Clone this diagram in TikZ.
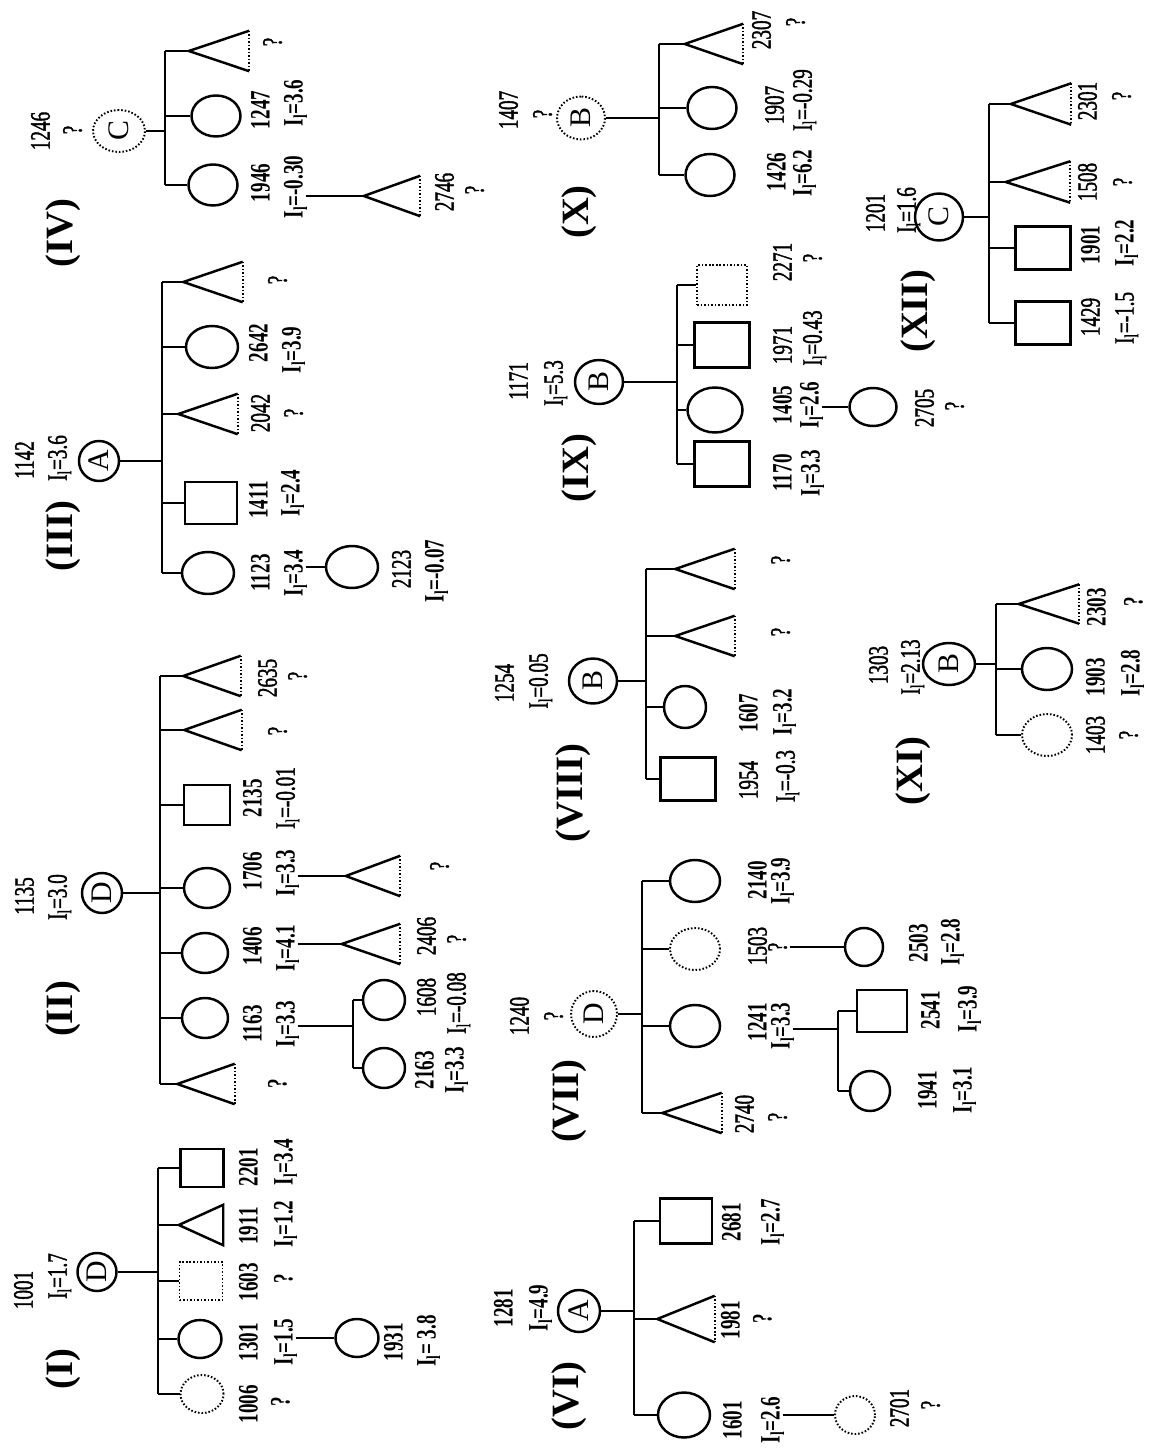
\documentclass[tikz,border=0pt]{standalone}
\usepackage{fontspec}
\setmainfont{Liberation Serif}
\newfontfamily\nrfont[FakeStretch=0.68]{Liberation Serif}
\newfontfamily\nrmedfont[FakeStretch=0.68, FakeBold=1.3]{Liberation Serif}
\usetikzlibrary{shapes.geometric}

\newcommand{\Il}[1]{I\textsubscript{l}=#1}
% triangle with solid sides and a dotted base
\newcommand{\pedTri}[2]{%
    \node[tribox] (#1) at (#2) {};
    \draw (#1.north east) -- (#1.west) -- (#1.south east);
    \draw[dotline] (#1.north east) -- (#1.south east);
}

\tikzset{
    pw/.store in=\pedw, ph/.store in=\pedh, tw/.store in=\triw, th/.store in=\trih,
    pw=48, ph=42, tw=57, th=38,
    dotline/.style={line width=1.1pt, dash pattern=on 0.9pt off 1.1pt},
    fem/.style={ellipse, draw, inner sep=0pt, minimum width=\pedw*0.02cm, minimum height=\pedh*0.02cm},
    femq/.style={fem, dotline},
    mal/.style={rectangle, draw, inner sep=0pt, minimum width=\pedw*0.02cm, minimum height=\pedh*0.02cm},
    malq/.style={mal, dotline},
    tribox/.style={rectangle, inner sep=0pt, minimum width=\triw*0.02cm, minimum height=\trih*0.02cm},
    par/.style={ellipse, draw, rotate=90, inner sep=0pt, font=\fontsize{17}{19}\selectfont},
    parq/.style={par, dotline},
    rsz/.style 2 args={minimum width=#2*0.02cm, minimum height=#1*0.02cm},
    lb/.style={rotate=90, inner sep=1pt, text height=11pt, text depth=0pt,
        font=\nrfont\bfseries\fontsize{16}{18}\selectfont},
    lr/.style={lb, font=\nrmedfont\fontsize{16}{18}\selectfont},
    fam/.style={rotate=90, inner sep=0pt, font=\bfseries\fontsize{22}{24}\selectfont},
}

\begin{document}
\begin{tikzpicture}[x=0.02cm, y=-0.02cm, line width=1.4pt]
    \useasboundingbox (0,0) rectangle (1151,1452);

    % (I)
    \node[fam] (fI) at (63,1369) {(I)};
    \node[lr] (nP1001) at (23,1290) {1001};
    \node[lr] (iP1001) at (57,1276) {\Il{1.7}};
    \node[par, rsz={39}{38}] (pI) at (97,1272) {D};
    \begin{scope}[pw=43, ph=38, tw=42]
        \node[femq] (c1006) at (202,1394) {};
        \node[fem] (c1301) at (200,1339) {};
        \node[malq] (c1603) at (201,1281) {};
        \node[tribox] (c1911) at (201,1225) {};
        \draw (c1911.west) -- (c1911.north east) -- (c1911.south east) -- cycle;
        \node[mal] (c2201) at (202,1168) {};
        \node[fem] (c1931) at (357,1338) {};
    \end{scope}
    \node[lb] (n1006) at (248,1404) {1006};
    \node[lb] (i1006) at (280,1402) {?};
    \node[lb] (n1301) at (248,1342) {1301};
    \node[lb] (i1301) at (283,1342) {\Il{1.5}};
    \node[lb] (n1603) at (248,1282) {1603};
    \node[lb] (i1603) at (283,1279) {?};
    \node[lb] (n1911) at (248,1226) {1911};
    \node[lb] (i1911) at (283,1224) {\Il{1.2}};
    \node[lb] (n2201) at (248,1167) {2201};
    \node[lb] (i2201) at (283,1162) {\Il{3.4}};
    \node[lb] (n1931) at (393,1342) {1931};
    \node[lb] (i1931) at (426,1341) {I\textsubscript{l}= 3.8};
    \coordinate (bI) at (158,1272);
    \draw (pI.south) -- (bI);
    \draw (c2201.west -| bI) -- (c1006.west -| bI);
    \foreach \ch in {c1006,c1301,c1603,c1911,c2201}
        \draw (\ch.west -| bI) -- (\ch.west);
    \draw (i1301.south |- c1931.west) -- (c1931.west);

    % (II)
    \node[fam] (fII) at (63,1009) {(II)};
    \node[lr] (nP1135) at (24,896) {1135};
    \node[lr] (iP1135) at (57,897) {\Il{3.0}};
    \node[par, rsz={40}{40}] (pII) at (102,893) {D};
    \begin{scope}[pw=46, ph=40, tw=55]
        \pedTri{tIIa}{206,1084}
        \node[fem] (c1163) at (205,1018) {};
        \node[fem] (c1406) at (205,953) {};
        \node[fem] (c1706) at (207,888) {};
        \node[mal] (c2135) at (207,805) {};
        \pedTri{tIIb}{213,730}
        \pedTri{c2635}{212,676}
    \end{scope}
    \begin{scope}[pw=42, ph=40]
        \node[fem] (c1608) at (384,1000) {};
        \node[fem] (c2163) at (384,1068) {};
    \end{scope}
    \begin{scope}[tw=56]
        \pedTri{c2406}{371,944}
    \end{scope}
    \begin{scope}[tw=52]
        \pedTri{tIIc}{373,876}
    \end{scope}
    \node[lb] (qIIa) at (277,1084) {?};
    \node[lb] (n1163) at (252,1024) {1163};
    \node[lb] (i1163) at (285,1024) {\Il{3.3}};
    \node[lb] (n1406) at (252,946) {1406};
    \node[lb] (i1406) at (285,948) {\Il{4.1}};
    \node[lb] (n1706) at (252,871) {1706};
    \node[lb] (i1706) at (285,873) {\Il{3.3}};
    \node[lb] (n2135) at (252,798) {2135};
    \node[lr] (i2135) at (285,798) {\Il{-0.01}};
    \node[lr] (qIIb) at (277,731) {?};
    \node[lr] (n2635) at (267,678) {2635};
    \node[lr] (i2635) at (297,676) {?};
    \node[lb] (n2163) at (424,1070) {2163};
    \node[lb] (i2163) at (454,1070) {\Il{3.3}};
    \node[lr] (n1608) at (426,997) {1608};
    \node[lr] (i1608) at (456,1003) {\Il{-0.08}};
    \node[lr] (n2406) at (426,936) {2406};
    \node[lr] (i2406) at (456,939) {?};
    \node[lr] (qIIc) at (439,866) {?};
    \coordinate (bII) at (160,893);
    \draw (pII.south) -- (bII);
    \draw (c2635.west -| bII) -- (tIIa.west -| bII);
    \foreach \ch in {tIIa,c1163,c1406,c1706,c2135,tIIb,c2635}
        \draw (\ch.west -| bII) -- (\ch.west);
    \coordinate (bIIg) at (353,1026);
    \draw (i1163.south |- bIIg) -- (bIIg);
    \draw (c1608.west -| bIIg) -- (c2163.west -| bIIg);
    \foreach \ch in {c1608,c2163}
        \draw (\ch.west -| bIIg) -- (\ch.west);
    \draw (i1406.south |- c2406.west) -- (c2406.west);
    \draw (i1706.south |- tIIc.west) -- (tIIc.west);

    % (III)
    \node[fam] (fIII) at (63,536) {(III)};
    \node[lr] (nP1142) at (24,460) {1142};
    \node[lr] (iP1142) at (57,458) {\Il{3.6}};
    \node[par, rsz={40}{40}] (pIII) at (99,461) {A};
    \begin{scope}[pw=52, ph=42]
        \node[fem] (c1123) at (208,573) {};
        \node[mal] (c1411) at (211,503) {};
        \pedTri{c2042}{208,414}
        \node[fem] (c2642) at (212,347) {};
        \pedTri{tIIIa}{213,282}
        \node[fem] (c2123) at (352,567) {};
    \end{scope}
    \node[lb] (n1123) at (260,573) {1123};
    \node[lb] (i1123) at (293,573) {\Il{3.4}};
    \node[lb] (n1411) at (258,500) {1411};
    \node[lb] (i1411) at (290,493) {\Il{2.4}};
    \node[lr] (n2042) at (260,413) {2042};
    \node[lr] (i2042) at (293,413) {?};
    \node[lb] (n2642) at (258,343) {2642};
    \node[lb] (i2642) at (291,350) {\Il{3.9}};
    \node[lr] (qIIIa) at (277,280) {?};
    \node[lr] (n2123) at (401,569) {2123};
    \node[lb] (i2123) at (434,571) {\Il{-0.07}};
    \coordinate (bIII) at (162,461);
    \draw (pIII.south) -- (bIII);
    \draw (tIIIa.west -| bIII) -- (c1123.west -| bIII);
    \foreach \ch in {c1123,c1411,c2042,c2642,tIIIa}
        \draw (\ch.west -| bIII) -- (\ch.west);
    \draw (i1123.south |- c2123.west) -- (c2123.west);

    % (IV)
    \node[fam] (fIV) at (63,233) {(IV)};
    \node[lr] (nP1246) at (40,131) {1246};
    \node[lr] (iP1246) at (72,130) {?};
    \node[parq, rsz={52}{42}] (pIV) at (119,131) {C};
    \begin{scope}[pw=49, ph=41, tw=58]
        \node[fem] (c1946) at (213,185) {};
        \node[fem] (c1247) at (216,116) {};
        \pedTri{tIVa}{219,51}
    \end{scope}
    \begin{scope}[tw=54]
        \pedTri{c2746}{392,196}
    \end{scope}
    \node[lb] (n1946) at (260,183) {1946};
    \node[lb] (i1946) at (293,187) {\Il{-0.30}};
    \node[lb] (n1247) at (260,110) {1247};
    \node[lb] (i1247) at (293,103) {\Il{3.6}};
    \node[lr] (qIVa) at (272,42) {?};
    \node[lr] (n2746) at (444,192) {2746};
    \node[lr] (i2746) at (474,190) {?};
    \coordinate (bIV) at (165,131);
    \draw (pIV.south) -- (bIV);
    \draw (c1946.west -| bIV) -- (tIVa.west -| bIV);
    \foreach \ch in {c1946,c1247,tIVa}
        \draw (\ch.west -| bIV) -- (\ch.west);
    \draw (i1946.south |- c2746.west) -- (c2746.west);

    % (VI)
    \node[fam] (fVI) at (569,1396) {(VI)};
    \node[lb] (nP1281) at (503,1308) {1281};
    \node[lb] (iP1281) at (538,1308) {\Il{4.9}};
    \node[par, rsz={42}{42}] (pVI) at (579,1311) {A};
    \begin{scope}[pw=52, ph=45, th=44, tw=55]
        \node[fem] (c1601) at (684,1415) {};
        \pedTri{c1981}{686,1319}
        \node[mal] (c2681) at (686,1221) {};
    \end{scope}
    \begin{scope}[pw=40, ph=38]
        \node[femq] (c2701) at (855,1415) {};
    \end{scope}
    \node[lb] (n1601) at (732,1420) {1601};
    \node[lb] (i1601) at (770,1420) {\Il{2.6}};
    \node[lb] (n1981) at (730,1320) {1981};
    \node[lb] (i1981) at (762,1319) {?};
    \node[lb] (n2681) at (731,1222) {2681};
    \node[lb] (i2681) at (770,1222) {\Il{2.7}};
    \node[lr] (n2701) at (899,1408) {2701};
    \node[lr] (i2701) at (930,1405) {?};
    \coordinate (bVI) at (634,1311);
    \draw (pVI.south) -- (bVI);
    \draw (c2681.west -| bVI) -- (c1601.west -| bVI);
    \foreach \ch in {c1601,c1981,c2681}
        \draw (\ch.west -| bVI) -- (\ch.west);
    \draw (i1601.south |- c2701.west) -- (c2701.west);

    % (VII)
    \node[fam] (fVII) at (569,1101) {(VII)};
    \node[lr] (nP1240) at (519,1016) {1240};
    \node[lr] (iP1240) at (553,1016) {?};
    \node[parq, rsz={46}{46}] (pVII) at (594,1014) {D};
    \begin{scope}[pw=50, ph=42]
        \pedTri{c2740}{692,1113}
        \node[fem] (c1241) at (695,1026) {};
        \node[femq] (c1503) at (695,949) {};
        \node[fem] (c2140) at (695,881) {};
        \node[mal] (c2541) at (882,1011) {};
    \end{scope}
    \begin{scope}[pw=40, ph=40]
        \node[fem] (c1941) at (870,1091) {};
    \end{scope}
    \begin{scope}[pw=38, ph=38]
        \node[fem] (c2503) at (864,947) {};
    \end{scope}
    \node[lr] (n2740) at (744,1114) {2740};
    \node[lr] (i2740) at (777,1117) {?};
    \node[lb] (n1241) at (757,1022) {1241};
    \node[lb] (i1241) at (780,1026) {\Il{3.3}};
    \node[lr] (n1503) at (757,946) {1503};
    \node[lr] (i1503) at (777,947) {?};
    \node[lb] (n2140) at (757,880) {2140};
    \node[lb] (i2140) at (780,881) {\Il{3.9}};
    \node[lb] (n2541) at (930,1010) {2541};
    \node[lb] (i2541) at (967,1009) {\Il{3.9}};
    \node[lb] (n1941) at (927,1090) {1941};
    \node[lb] (i1941) at (962,1090) {\Il{3.1}};
    \node[lb] (n2503) at (918,943) {2503};
    \node[lb] (i2503) at (950,942) {\Il{2.8}};
    \coordinate (bVII) at (642,1014);
    \draw (pVII.south) -- (bVII);
    \draw (c2140.west -| bVII) -- (c2740.west -| bVII);
    \foreach \ch in {c2740,c1241,c1503,c2140}
        \draw (\ch.west -| bVII) -- (\ch.west);
    \coordinate (bVIIg) at (838,1029);
    \draw (i1241.south |- bVIIg) -- (bVIIg);
    \draw (c2541.west -| bVIIg) -- (c1941.west -| bVIIg);
    \foreach \ch in {c2541,c1941}
        \draw (\ch.west -| bVIIg) -- (\ch.west);
    \draw (i1503.south |- c2503.west) -- (c2503.west);

    % (VIII)
    \node[fam] (fVIII) at (573,793) {(VIII)};
    \node[lr] (nP1254) at (504,683) {1254};
    \node[lr] (iP1254) at (538,681) {\Il{0.05}};
    \node[par, rsz={48}{45}] (pVIII) at (593,681) {B};
    \begin{scope}[pw=55, ph=43]
        \node[mal] (c1954) at (688,779) {};
        \pedTri{tVIIIa}{705,636}
        \pedTri{tVIIIb}{705,569}
    \end{scope}
    \begin{scope}[pw=42, ph=42]
        \node[fem] (c1607) at (685,707) {};
    \end{scope}
    \node[lr] (n1954) at (748,780) {1954};
    \node[lr] (i1954) at (785,776) {\Il{-0.3}};
    \node[lb] (n1607) at (748,713) {1607};
    \node[lb] (i1607) at (782,712) {\Il{3.2}};
    \node[lr] (qVIIIa) at (780,632) {?};
    \node[lr] (qVIIIb) at (780,560) {?};
    \coordinate (bVIII) at (646,681);
    \draw (pVIII.south) -- (bVIII);
    \draw (c1954.west -| bVIII) -- (tVIIIb.west -| bVIII);
    \foreach \ch in {c1954,c1607,tVIIIa,tVIIIb}
        \draw (\ch.west -| bVIII) -- (\ch.west);

    % (IX)
    \node[fam] (fIX) at (579,468) {(IX)};
    \node[lr] (nP1171) at (518,381) {1171};
    \node[lr] (iP1171) at (553,383) {\Il{5.3}};
    \node[par, rsz={48}{44}] (pIX) at (599,382) {B};
    \begin{scope}[pw=55, ph=45]
        \node[mal] (c1170) at (722,464) {};
        \node[fem] (c1405) at (715,410) {};
        \node[mal] (c1971) at (722,345) {};
    \end{scope}
    \begin{scope}[pw=50, ph=40]
        \node[malq] (c2271) at (722,285) {};
    \end{scope}
    \begin{scope}[pw=47, ph=38]
        \node[fem] (c2705) at (873,407) {};
    \end{scope}
    \node[lb] (n1170) at (782,473) {1170};
    \node[lb] (i1170) at (810,473) {\Il{3.3}};
    \node[lb] (n1405) at (782,405) {1405};
    \node[lb] (i1405) at (809,405) {\Il{2.6}};
    \node[lr] (n1971) at (782,345) {1971};
    \node[lr] (i1971) at (812,338) {\Il{0.43}};
    \node[lr] (n2271) at (782,262) {2271};
    \node[lr] (i2271) at (812,258) {?};
    \node[lr] (n2705) at (924,408) {2705};
    \node[lr] (i2705) at (954,406) {?};
    \coordinate (bIX) at (677,382);
    \draw (pIX.south) -- (bIX);
    \draw (c1170.west -| bIX) -- (c2271.west -| bIX);
    \foreach \ch in {c1170,c1405,c1971,c2271}
        \draw (\ch.west -| bIX) -- (\ch.west);
    \draw (i1405.south |- c2705.west) -- (c2705.west);

    % (X)
    \node[fam] (fX) at (579,212) {(X)};
    \node[lr] (nP1407) at (508,110) {1407};
    \node[lr] (iP1407) at (542,114) {?};
    \node[parq, rsz={48}{43}] (pX) at (581,118) {B};
    \begin{scope}[pw=49, ph=42, tw=56]
        \node[fem] (c1426) at (710,175) {};
        \node[fem] (c1907) at (712,108) {};
        \pedTri{c2307}{714,44}
    \end{scope}
    \node[lb] (n1426) at (776,172) {1426};
    \node[lb] (i1426) at (802,173) {\Il{6.2}};
    \node[lr] (n1907) at (774,105) {1907};
    \node[lr] (i1907) at (802,100) {\Il{-0.29}};
    \node[lr] (n2307) at (761,30) {2307};
    \node[lr] (i2307) at (795,22) {?};
    \coordinate (bX) at (659,118);
    \draw (pX.south) -- (bX);
    \draw (c1426.west -| bX) -- (c2307.west -| bX);
    \foreach \ch in {c1426,c1907,c2307}
        \draw (\ch.west -| bX) -- (\ch.west);

    % (XI)
    \node[fam] (fXI) at (913,771) {(XI)};
    \node[lr] (nP1303) at (878,665) {1303};
    \node[lr] (iP1303) at (910,667) {\Il{2.13}};
    \node[par, rsz={52}{42}] (pXI) at (949,664) {B};
    \begin{scope}[pw=50, ph=42, tw=58, th=37]
        \node[femq] (c1403) at (1047,735) {};
        \node[fem] (c1903) at (1047,669) {};
        \pedTri{c2303}{1049,604}
    \end{scope}
    \node[lr] (n1403) at (1095,735) {1403};
    \node[lr] (i1403) at (1128,735) {?};
    \node[lb] (n1903) at (1095,677) {1903};
    \node[lb] (i1903) at (1130,673) {\Il{2.8}};
    \node[lb] (n2303) at (1096,607) {2303};
    \node[lb] (i2303) at (1133,602) {?};
    \coordinate (bXI) at (996,664);
    \draw (pXI.south) -- (bXI);
    \draw (c1403.west -| bXI) -- (c2303.west -| bXI);
    \foreach \ch in {c1403,c1903,c2303}
        \draw (\ch.west -| bXI) -- (\ch.west);

    % (XII)
    \node[fam] (fXII) at (918,311) {(XII)};
    \node[lr] (nP1201) at (875,213) {1201};
    \node[lr] (iP1201) at (906,210) {\Il{1.6}};
    \node[par, rsz={48}{47}] (pXII) at (939,217) {C};
    \begin{scope}[pw=55, ph=43, th=39]
        \node[mal] (c1429) at (1043,323) {};
        \node[mal] (c1901) at (1043,248) {};
        \begin{scope}[tw=62]
            \pedTri{c1508}{1038,182}
        \end{scope}
        \begin{scope}[tw=58]
            \pedTri{c2301}{1041,104}
        \end{scope}
    \end{scope}
    \node[lr] (n1429) at (1090,317) {1429};
    \node[lr] (i1429) at (1124,318) {\Il{-1.5}};
    \node[lb] (n1901) at (1090,245) {1901};
    \node[lb] (i1901) at (1124,243) {\Il{2.2}};
    \node[lr] (n1508) at (1087,182) {1508};
    \node[lr] (i1508) at (1122,182) {?};
    \node[lr] (n2301) at (1087,101) {2301};
    \node[lr] (i2301) at (1121,96) {?};
    \coordinate (bXII) at (989,217);
    \draw (pXII.south) -- (bXII);
    \draw (c1429.west -| bXII) -- (c2301.west -| bXII);
    \foreach \ch in {c1429,c1901,c1508,c2301}
        \draw (\ch.west -| bXII) -- (\ch.west);
\end{tikzpicture}
\end{document}
